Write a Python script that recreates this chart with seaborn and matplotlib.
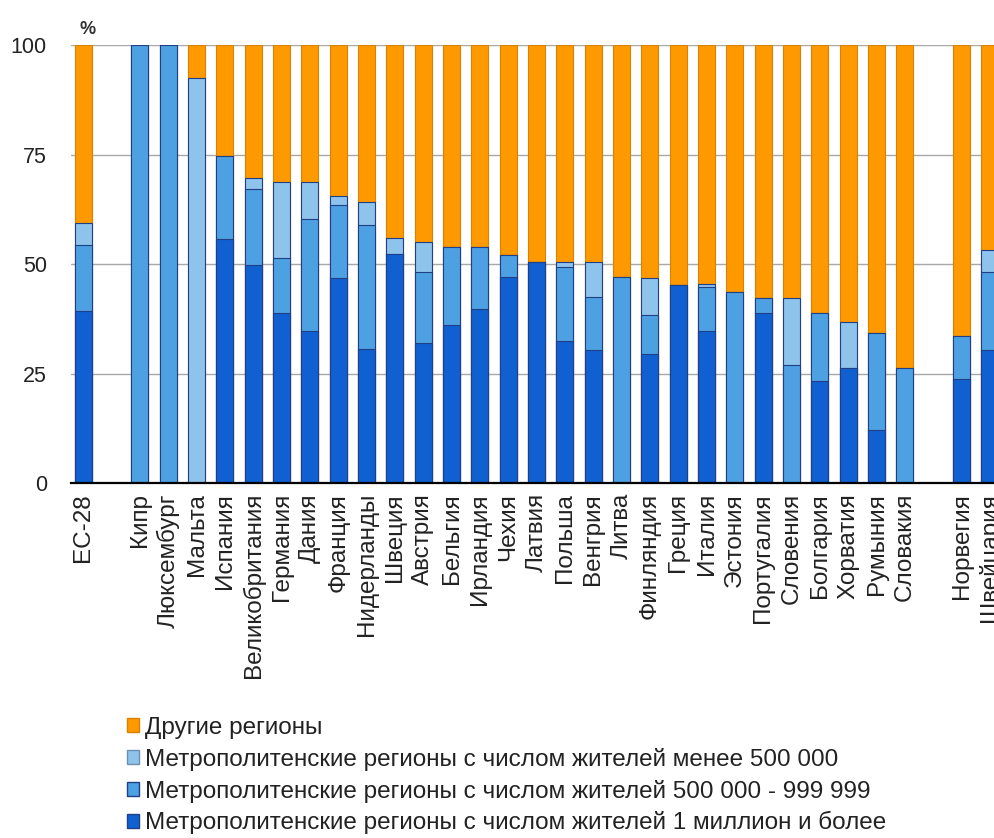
import numpy as np
import pandas as pd
import matplotlib
matplotlib.use("Agg")
import matplotlib.pyplot as plt
import seaborn as sns
from matplotlib.patches import Patch

countries = ["ЕС-28", "Кипр", "Люксембург", "Мальта", "Испания", "Великобритания",
             "Германия", "Дания", "Франция", "Нидерланды", "Швеция", "Австрия",
             "Бельгия", "Ирландия", "Чехия", "Латвия", "Польша", "Венгрия", "Литва",
             "Финляндия", "Греция", "Италия", "Эстония", "Португалия", "Словения",
             "Болгария", "Хорватия", "Румыния", "Словакия", "Норвегия", "Швейцария"]

dark = [39.4, 0, 0, 0, 55.7, 49.8, 38.9, 34.8, 46.8, 30.7, 52.3, 32.1, 36.2, 39.8, 47.1,
        50.4, 32.5, 30.3, 0, 29.5, 45.2, 34.8, 0, 38.9, 0, 23.4, 26.2, 12.2, 0, 23.9, 30.3]
medium = [15.0, 100, 100, 0, 19.0, 17.3, 12.6, 25.5, 16.8, 28.2, 0, 16.0, 17.8, 14.2, 5.1,
          0, 16.8, 12.3, 47.1, 8.9, 0, 10.1, 43.7, 3.3, 27.0, 15.5, 0, 22.2, 26.2, 9.7, 17.8]
light = [5.1, 0, 0, 92.5, 0, 2.6, 17.2, 8.4, 2.0, 5.3, 3.6, 7.0, 0, 0, 0,
         0, 1.1, 7.8, 0, 8.4, 0, 0.6, 0, 0, 15.2, 0, 10.5, 0, 0, 0, 5.1]
other = [40.5, 0, 0, 7.5, 25.3, 30.3, 31.3, 31.3, 34.4, 35.8, 44.1, 44.9, 46.0, 46.0, 47.8,
         49.6, 49.6, 49.6, 52.9, 53.2, 54.8, 54.5, 56.3, 57.8, 57.8, 61.1, 63.3, 65.6, 73.8, 66.4, 46.8]

series_labels = ["Другие регионы",
                 "Метрополитенские регионы с числом жителей менее 500 000",
                 "Метрополитенские регионы с числом жителей 500 000 - 999 999",
                 "Метрополитенские регионы с числом жителей 1 миллион и более"]
yticks = [0, 25, 50, 75, 100]

C_OTHER = "#FF9900"
C_LIGHT = "#8EC3EC"
C_MED = "#4DA0E2"
C_DARK = "#1060D2"
E_OTHER = "#D98200"
E_BLUE = "#1F3F86"

df = pd.DataFrame({"country": countries, "dark": dark, "medium": medium,
                   "light": light, "other": other})
df["c4"] = df["dark"] + df["medium"] + df["light"] + df["other"]
df["c3"] = df["dark"] + df["medium"] + df["light"]
df["c2"] = df["dark"] + df["medium"]
df["c1"] = df["dark"]

order = [countries[0], " "] + countries[1:29] + ["  "] + countries[29:]

sns.set_style("white")
plt.rcParams["font.family"] = ["Liberation Sans", "DejaVu Sans"]

fig = plt.figure(figsize=(9.95, 8.38), dpi=100)
W, H = 995, 838
px_unit = 28.33
x0_px = 83.3
xmin, xmax = -0.45, 32.6
left_px = x0_px + xmin * px_unit
right_px = x0_px + xmax * px_unit
ax = fig.add_axes([left_px / W, (H - 483.3) / H, (right_px - left_px) / W, (483.3 - 45) / H])

layers = [("c4", C_OTHER, E_OTHER), ("c3", C_LIGHT, E_BLUE),
          ("c2", C_MED, E_BLUE), ("c1", C_DARK, E_BLUE)]
for col, col_face, col_edge in layers:
    sns.barplot(data=df, x="country", y=col, order=order, color=col_face,
                saturation=1, width=0.6, edgecolor=col_edge, linewidth=0.8,
                errorbar=None, ax=ax)

ax.set_xlim(xmin, xmax)
ax.set_ylim(0, 100)
ax.set_yticks(yticks)
ax.set_yticklabels([str(v) for v in yticks])
ax.set_xlabel("")
ax.set_ylabel("")
ax.yaxis.grid(True, color="#A8A8A8", linewidth=1.0)
ax.xaxis.grid(False)
ax.set_axisbelow(True)
for s in ["left", "right", "top"]:
    ax.spines[s].set_visible(False)
ax.spines["bottom"].set_color("black")
ax.spines["bottom"].set_linewidth(1.6)
ax.tick_params(axis="y", length=0, pad=17, labelsize=15.5, labelcolor="#222222")
ax.tick_params(axis="x", length=0, pad=7, labelsize=17.5, labelcolor="#222222", rotation=90)

fig.text(80 / W, 1 - 29 / H, "%", fontsize=13, fontweight="bold", color="#333333", va="center")

handles = [Patch(facecolor=C_OTHER, edgecolor=E_OTHER),
           Patch(facecolor=C_LIGHT, edgecolor="#6E8FB0"),
           Patch(facecolor=C_MED, edgecolor=E_BLUE),
           Patch(facecolor=C_DARK, edgecolor=E_BLUE)]
fig.legend(handles, series_labels, loc="upper left", bbox_to_anchor=(127 / W, 1 - 717 / H),
           frameon=False, fontsize=17.5, handlelength=0.5, handleheight=0.5,
           handletextpad=0.25, labelspacing=0.36, borderaxespad=0, borderpad=0,
           labelcolor="#222222")

fig.savefig("out.png", dpi=100)
